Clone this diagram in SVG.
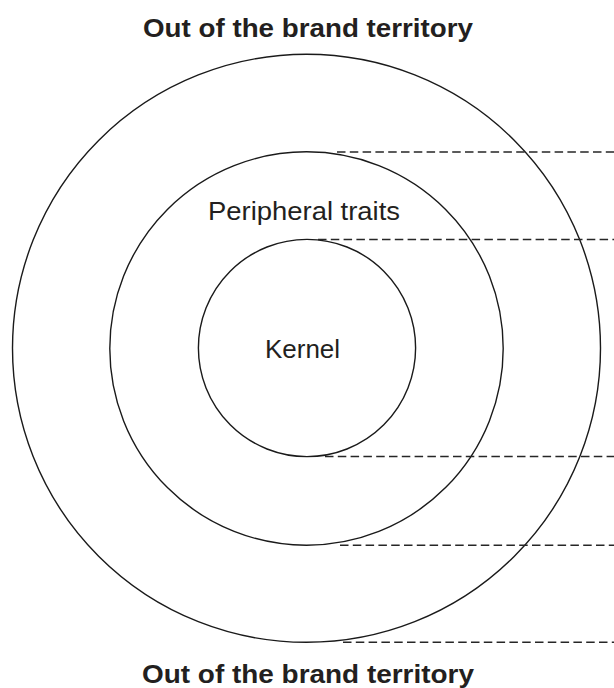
<svg xmlns="http://www.w3.org/2000/svg" width="614" height="688" viewBox="0 0 614 688">
  <style>
    .ring { fill: none; stroke: #1a1a1a; stroke-width: 1.4; }
    .guide { stroke: #262626; stroke-width: 1.5; stroke-dasharray: 8.5 4.3; fill: none; }
    .title { font-family: "Liberation Sans", Arial, sans-serif; font-weight: bold; font-size: 26px; fill: #231f20; text-anchor: middle; }
    .label { font-family: "Liberation Sans", Arial, sans-serif; font-size: 26px; fill: #231f20; text-anchor: middle; }
  </style>
  <rect width="614" height="688" fill="#ffffff"/>

  <!-- boundary labels -->
  <g id="top-label">
    <text class="title" x="308" y="36.5" textLength="330" lengthAdjust="spacingAndGlyphs">Out of the brand territory</text>
  </g>
  <g id="bottom-label">
    <text class="title" x="308" y="683" textLength="332" lengthAdjust="spacingAndGlyphs">Out of the brand territory</text>
  </g>

  <!-- concentric zones -->
  <g id="outer-zone">
    <circle class="ring" cx="306.5" cy="348.3" r="294"/>
  </g>
  <g id="peripheral-zone">
    <circle class="ring" cx="306.5" cy="348.5" r="196.7"/>
    <text class="label" x="304" y="220" textLength="192" lengthAdjust="spacingAndGlyphs">Peripheral traits</text>
  </g>
  <g id="kernel">
    <circle class="ring" cx="307" cy="348" r="108.6"/>
    <text class="label" x="302.5" y="358.3">Kernel</text>
  </g>

  <!-- dashed guides running from each ring to the right edge -->
  <g id="connectors">
    <line class="guide" x1="337" y1="152" x2="614" y2="152"/>
    <line class="guide" x1="318" y1="239.5" x2="614" y2="239.5"/>
    <line class="guide" x1="325" y1="456.6" x2="614" y2="456.6"/>
    <line class="guide" x1="340" y1="545.2" x2="614" y2="545.2"/>
    <line class="guide" x1="343" y1="642.3" x2="614" y2="642.3"/>
  </g>
</svg>
